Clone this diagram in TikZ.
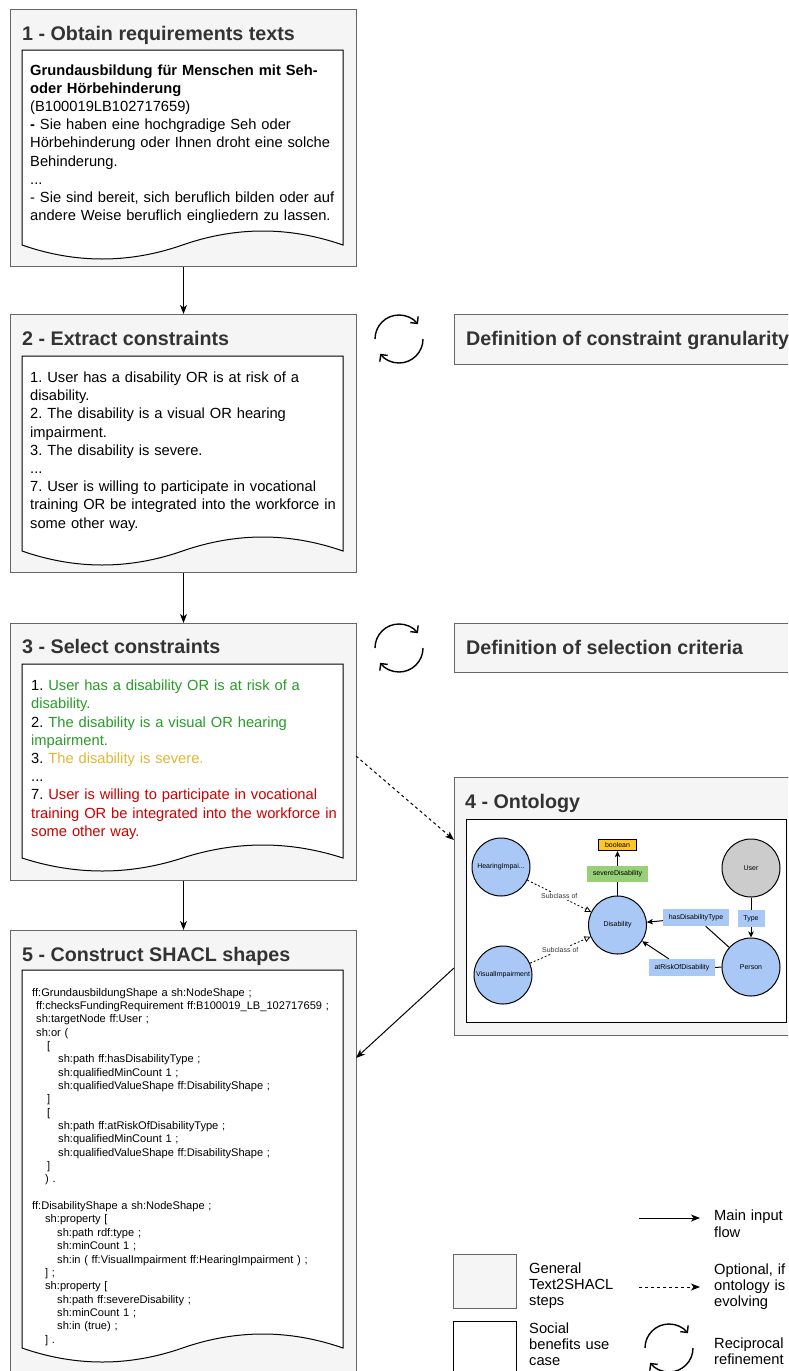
\documentclass[tikz,border=0pt]{standalone}
\usepackage{fontspec}
\setmainfont{Liberation Sans}
\usetikzlibrary{arrows.meta,calc}
\frenchspacing
\definecolor{boxfill}{HTML}{F5F5F5}
\definecolor{boxdraw}{HTML}{666666}
\definecolor{titlec}{HTML}{333333}
\definecolor{okgreen}{RGB}{40,155,40}
\definecolor{midyellow}{RGB}{224,184,50}
\definecolor{badred}{RGB}{204,0,0}
\definecolor{oblue}{HTML}{A9C8F5}
\definecolor{ogray}{HTML}{CCCCCC}
\definecolor{ogreen}{HTML}{97D077}
\definecolor{oorange}{HTML}{FFC726}
\newcommand{\docpath}[5]{%
  \draw[docline] (#1,#2) -- (#3,#2) -- (#3,#4)
    .. controls ({#3-(#3-#1)/6},{#4-2*#5/3}) and ({#1+2*(#3-#1)/3},{#4-2*#5/3}) .. ({(#1+#3)/2},#4)
    .. controls ({#1+(#3-#1)/3},{#4+2*#5/3}) and ({#1+(#3-#1)/6},{#4+2*#5/3}) .. (#1,#4) -- cycle;}
\newcommand{\refreshicon}[2]{%
  \draw[iconline] ({#1-24},#2) arc[start angle=180,end angle=322,radius=24];
  \draw[iconline] ({#1+24},#2) arc[start angle=0,end angle=142,radius=24];}
\tikzset{
  stepbox/.style={draw=boxdraw, fill=boxfill, line width=1pt, minimum width=346, minimum height=257, anchor=north west, inner sep=0},
  steptitle/.style={anchor=base west, text=titlec, font=\fontsize{19.7}{22}\selectfont\bfseries, inner sep=0},
  doctext/.style={anchor=base west, align=left, text width=330, inner sep=0, font=\fontsize{14.7}{18.2}\selectfont},
  codetext/.style={anchor=base west, align=left, text width=330, inner sep=0, font=\fontsize{11.1}{13.35}\selectfont},
  legtext/.style={anchor=base west, align=left, text width=120, inner sep=0, font=\fontsize{14.7}{16.3}\selectfont},
  docline/.style={draw=black, fill=white, line width=1pt},
  flow/.style={-{Stealth[length=9pt,width=7pt,inset=2.5pt]}, line width=1pt},
  optflow/.style={flow, dash pattern=on 3pt off 3pt},
  iconline/.style={line width=1.4pt, -{Straight Barb[length=5pt,width=10pt]}},
  ocirc/.style={circle, draw=black, fill=oblue, minimum size=58, inner sep=0, line width=1pt, font=\fontsize{7}{8}\selectfont},
  olabel/.style={rectangle, inner sep=0, font=\fontsize{7}{8}\selectfont},
  oline/.style={line width=1pt},
  oarrow/.style={line width=1pt, -{Stealth[length=6pt,width=5.5pt,inset=1.5pt]}},
  subc/.style={line width=0.8pt, dash pattern=on 2pt off 2pt, -{Triangle[open,length=6pt,width=6pt]}},
  sublabel/.style={fill=white, inner sep=1pt, text=titlec, font=\fontsize{7}{8}\selectfont},
}
\begin{document}
\begin{tikzpicture}[x=1pt,y=-1pt]
\path[use as bounding box, clip] (0,0) rectangle (788,1371);

% step boxes
\node[stepbox] (s1) at (10,9) {};
\node[stepbox, minimum height=258] (s2) at (10,314) {};
\node[stepbox] (s3) at (10,623) {};
\node[stepbox, minimum height=258] (s4) at (454,777) {};
\node[stepbox, minimum height=470] (s5) at (10,930) {};
\node[stepbox, minimum height=50] (d2) at (454,314) {};
\node[stepbox, minimum height=49] (d3) at (454,623) {};

% titles
\node[steptitle] (t1) at (22,40.3) {1 - Obtain requirements texts};
\node[steptitle] (t2) at (22,345.5) {2 - Extract constraints};
\node[steptitle] (t3) at (22,653.5) {3 - Select constraints};
\node[steptitle] (t4) at (465,808) {4 - Ontology};
\node[steptitle] (t5) at (22,961) {5 - Construct SHACL shapes};
\node[steptitle] (dt2) at (466,345) {Definition of constraint granularity};
\node[steptitle] (dt3) at (466,654) {Definition of selection criteria};

% documents
\docpath{22}{50}{343}{245}{28}
\docpath{22}{356}{343}{551}{28}
\docpath{22}{664}{343}{858}{26}
\docpath{22}{970}{343}{1348}{28}

\node[doctext] (x1) at (30,75) {\textbf{Grundausbildung für Menschen mit Seh-}\\\textbf{oder Hörbehinderung}\\(B100019LB102717659)\\\textbf{-} Sie haben eine hochgradige Seh oder\\Hörbehinderung oder Ihnen droht eine solche\\Behinderung.\\...\\- Sie sind bereit, sich beruflich bilden oder auf\\andere Weise beruflich eingliedern zu lassen.};

\node[doctext] (x2) at (30,382.5) {1. User has a disability OR is at risk of a\\disability.\\2. The disability is a visual OR hearing\\impairment.\\3. The disability is severe.\\...\\7. User is willing to participate in vocational\\training OR be integrated into the workforce in\\some other way.};

\node[doctext] (x3) at (31,690.7) {1. \textcolor{okgreen}{User has a disability OR is at risk of a}\\\textcolor{okgreen}{disability.}\\2. \textcolor{okgreen}{The disability is a visual OR hearing}\\\textcolor{okgreen}{impairment.}\\3. \textcolor{midyellow}{The disability is severe.}\\...\\7. \textcolor{badred}{User is willing to participate in vocational}\\\textcolor{badred}{training OR be integrated into the workforce in}\\\textcolor{badred}{some other way.}};

\node[codetext] (x5) at (32,996) {ff:GrundausbildungShape a sh:NodeShape ;\\
\hspace*{4pt}ff:checksFundingRequirement ff:B100019\_LB\_102717659 ;\\
\hspace*{4pt}sh:targetNode ff:User ;\\
\hspace*{4pt}sh:or (\\
\hspace*{15pt}[\\
\hspace*{26pt}sh:path ff:hasDisabilityType ;\\
\hspace*{26pt}sh:qualifiedMinCount 1 ;\\
\hspace*{26pt}sh:qualifiedValueShape ff:DisabilityShape ;\\
\hspace*{15pt}]\\
\hspace*{15pt}[\\
\hspace*{26pt}sh:path ff:atRiskOfDisabilityType ;\\
\hspace*{26pt}sh:qualifiedMinCount 1 ;\\
\hspace*{26pt}sh:qualifiedValueShape ff:DisabilityShape ;\\
\hspace*{15pt}]\\
\hspace*{13pt}) .\\
\mbox{}\\
ff:DisabilityShape a sh:NodeShape ;\\
\hspace*{13pt}sh:property [\\
\hspace*{25pt}sh:path rdf:type ;\\
\hspace*{25pt}sh:minCount 1 ;\\
\hspace*{25pt}sh:in ( ff:VisualImpairment ff:HearingImpairment ) ;\\
\hspace*{13pt}] ;\\
\hspace*{13pt}sh:property [\\
\hspace*{25pt}sh:path ff:severeDisability ;\\
\hspace*{25pt}sh:minCount 1 ;\\
\hspace*{25pt}sh:in (true) ;\\
\hspace*{13pt}] .};

% main flow
\draw[flow] (s1.south) -- (s2.north);
\draw[flow] (s2.south) -- (s3.north);
\draw[flow] (s3.south) -- (s5.north);
\coordinate (s3out) at (356,756);
\coordinate (s4in) at (454,840);
\draw[optflow] (s3out) -- (s4in);
\coordinate (s4out) at (454,968);
\coordinate (s5in) at (356,1058);
\draw[flow] (s4out) -- (s5in);

% refresh icons
\refreshicon{399}{339}
\refreshicon{399}{648}

% ontology
\node[draw=black, fill=white, line width=1pt, minimum width=320, minimum height=203, anchor=north west, inner sep=0] (ont) at (466,819) {};
\node[ocirc] (hear) at (501,867) {HearingImpai...};
\node[ocirc] (vis) at (503,975) {VisualImpairment};
\node[ocirc] (dis) at (617.5,925) {Disability};
\node[ocirc, fill=ogray] (user) at (751,868) {User};
\node[ocirc] (pers) at (751,967) {Person};
\node[olabel, fill=ogreen, minimum width=61, minimum height=16] (sev) at (617.5,874) {severeDisability};
\node[olabel, fill=oorange, draw=black, line width=1.2pt, minimum width=38, minimum height=11] (bool) at (617.5,845) {boolean};
\node[olabel, fill=oblue, minimum width=66, minimum height=17] (hdt) at (696,917.5) {hasDisabilityType};
\node[olabel, fill=oblue, minimum width=27, minimum height=17] (typ) at (751,918.5) {Type};
\node[olabel, fill=oblue, minimum width=66, minimum height=17] (ard) at (682,967.5) {atRiskOfDisability};
\draw[oline] (dis) -- (sev);
\draw[oarrow] (sev) -- (bool);
\draw[oline] (user) -- (typ);
\draw[oarrow] (typ) -- (pers);
\draw[oline] (pers) -- (hdt);
\draw[oarrow] (hdt) -- (dis);
\draw[oline] (pers) -- (ard);
\draw[oarrow] (ard) -- (dis);
\draw[subc] (hear) -- node[sublabel] (sl1) {Subclass of} (dis);
\draw[subc] (vis) -- node[sublabel] (sl2) {Subclass of} (dis);

% legend
\coordinate (la1) at (639,1218);
\coordinate (lb1) at (700,1218);
\draw[flow] (la1) -- (lb1);
\coordinate (la2) at (639,1287);
\coordinate (lb2) at (700,1287);
\draw[optflow] (la2) -- (lb2);
\node[draw=boxdraw, fill=boxfill, line width=1pt, minimum width=63, minimum height=54, anchor=north west, inner sep=0] (lg1) at (453,1254) {};
\node[draw=black, fill=white, line width=1pt, minimum width=63, minimum height=70, anchor=north west, inner sep=0] (lg2) at (453,1321) {};
\node[legtext] (lt1) at (714,1220.7) {Main input\\flow};
\node[legtext] (lt2) at (529,1273) {General\\Text2SHACL\\steps};
\node[legtext] (lt3) at (714,1274) {Optional, if\\ontology is\\evolving};
\node[legtext] (lt4) at (529,1333) {Social\\benefits use\\case};
\node[legtext] (lt5) at (714,1348) {Reciprocal\\refinement};
\refreshicon{669}{1348}
\end{tikzpicture}
\end{document}
